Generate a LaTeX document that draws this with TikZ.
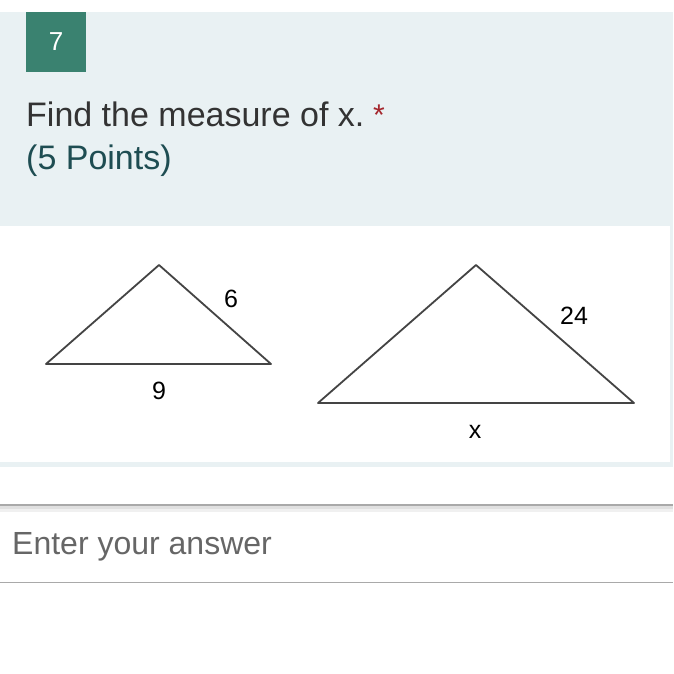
\documentclass[tikz,border=0pt]{standalone}
\usepackage{fontspec}
\setmainfont{Liberation Sans}
\definecolor{panel}{HTML}{E9F1F3}
\definecolor{badge}{HTML}{3A8270}
\definecolor{qtext}{HTML}{333333}
\definecolor{ptext}{HTML}{1E4D52}
\definecolor{req}{HTML}{A4262C}
\definecolor{hint}{HTML}{666666}
\definecolor{rule}{HTML}{A9A9A9}
\definecolor{tri}{HTML}{444444}
\tikzset{
  lbl/.style={inner sep=0pt, text=black, font=\fontsize{25}{28}\selectfont},
  side/.style={draw=tri, line width=1.8pt, line join=round},
  txt/.style={inner sep=0pt, anchor=base west}
}
\begin{document}
\begin{tikzpicture}[x=1pt,y=-1pt]
\useasboundingbox (0,0) rectangle (673,674);
\fill[white] (0,0) rectangle (673,674);
% question panel
\fill[panel] (0,12) rectangle (673,467);
\fill[white] (0,226) rectangle (670,462);
% badge
\fill[badge] (26,12) rectangle (86,72);
\node[inner sep=0pt, text=white, font=\fontsize{26}{30}\selectfont] (num) at (56,42) {7};
% question text
\node[txt, text=qtext, font=\fontsize{34}{40}\selectfont] (q) at (26,127) {Find the measure of x.};
\node[inner sep=0pt, text=req, font=\fontsize{30}{34}\selectfont] (ast) at (379,115) {*};
\node[txt, text=ptext, font=\fontsize{34}{40}\selectfont] (pts) at (26,169) {(5 Points)};
% small triangle
\coordinate (a1) at (46,364);
\coordinate (b1) at (159,265);
\coordinate (c1) at (271,364);
\draw[side] (a1) -- (b1) -- (c1) -- cycle;
\node[lbl] (six) at (231,299) {6};
\node[lbl] (nine) at (159,391) {9};
% large triangle
\coordinate (a2) at (318,403);
\coordinate (b2) at (476,265);
\coordinate (c2) at (634,403);
\draw[side] (a2) -- (b2) -- (c2) -- cycle;
\node[lbl] (tf) at (574,316) {24};
\node[lbl] (xx) at (475,432) {x};
% answer box
\fill[black!12] (0,505) rectangle (673,509);
\fill[black!6] (0,509) rectangle (673,512);
\draw[rule, line width=2pt] (0,505) -- (673,505);
\draw[rule, line width=1.6pt] (0,582.5) -- (673,582.5);
\node[txt, text=hint, font=\fontsize{32}{36}\selectfont] (ans) at (12,554) {Enter your answer};
\end{tikzpicture}
\end{document}
